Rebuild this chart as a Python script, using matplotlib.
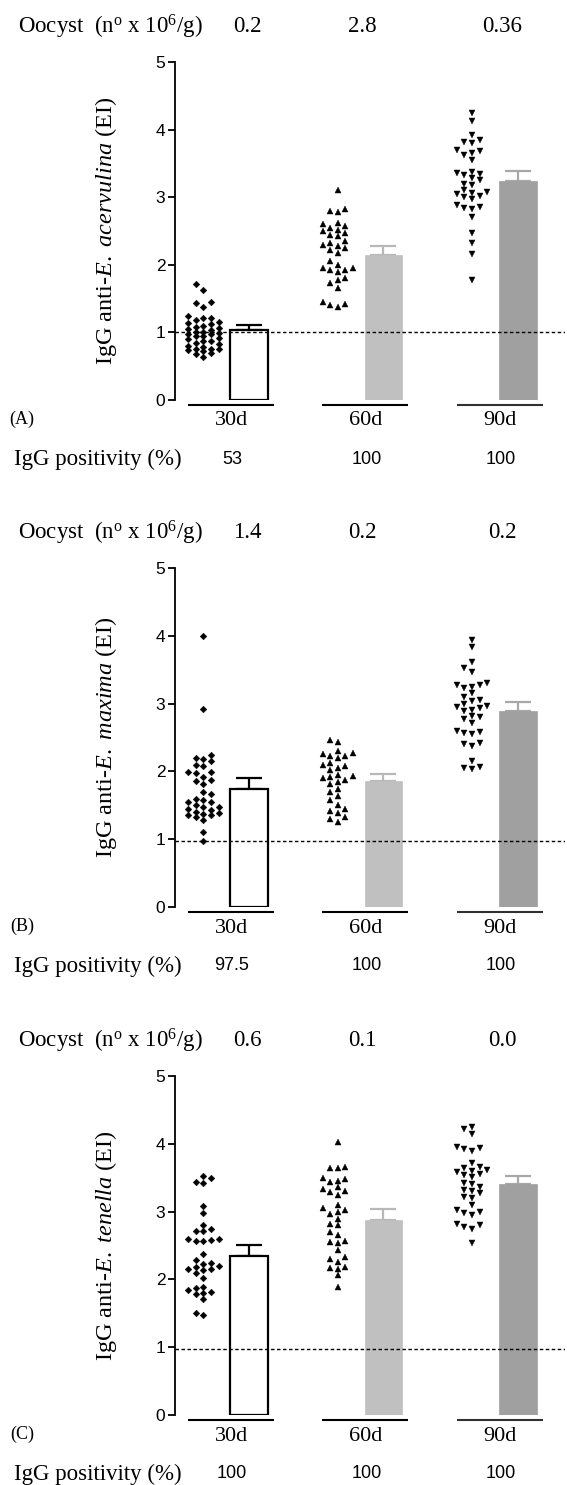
import numpy as np
import matplotlib
matplotlib.use("Agg")
import matplotlib.pyplot as plt

plt.rcParams['mathtext.fontset'] = 'custom'
plt.rcParams['mathtext.rm'] = 'Liberation Serif'
plt.rcParams['mathtext.it'] = 'Liberation Serif:italic'
plt.rcParams['mathtext.bf'] = 'Liberation Serif:bold'

SERIF = 'Liberation Serif'
SANS = 'Liberation Sans'

# ---------------- data ----------------
days = ["30d", "60d", "90d"]
panel_tags = ["(A)", "(B)", "(C)"]
species = ["acervulina", "maxima", "tenella"]
oocyst = [["0.2", "2.8", "0.36"], ["1.4", "0.2", "0.2"], ["0.6", "0.1", "0.0"]]
positivity = [["53", "100", "100"], ["97.5", "100", "100"], ["100", "100", "100"]]
cutoffs = [1.0, 0.97, 0.97]

a_30 = [1.71, 1.63, 1.45, 1.44, 1.37, 1.25, 1.22, 1.21, 1.18, 1.15, 1.14, 1.12,
        1.10, 1.08, 1.06, 1.05, 1.03, 1.01, 1.00, 0.99, 0.98, 0.97, 0.95, 0.94,
        0.92, 0.90, 0.88, 0.87, 0.85, 0.83, 0.80, 0.78, 0.76, 0.76, 0.75, 0.74,
        0.72, 0.70, 0.68, 0.63]
a_60 = [3.11, 2.82, 2.80, 2.78, 2.62, 2.60, 2.58, 2.55, 2.52, 2.50, 2.47, 2.44,
        2.43, 2.35, 2.32, 2.30, 2.28, 2.25, 2.22, 2.18, 2.05, 2.00, 1.96, 1.95,
        1.93, 1.92, 1.90, 1.80, 1.78, 1.73, 1.65, 1.45, 1.42, 1.40, 1.38]
a_90 = [4.24, 4.12, 3.92, 3.84, 3.82, 3.80, 3.70, 3.68, 3.66, 3.62, 3.55, 3.38,
        3.36, 3.34, 3.33, 3.28, 3.25, 3.20, 3.18, 3.10, 3.08, 3.06, 3.04, 3.02,
        3.00, 2.97, 2.88, 2.86, 2.84, 2.83, 2.71, 2.47, 2.32, 2.16, 1.77]
b_30 = [4.00, 2.92, 2.24, 2.20, 2.18, 2.15, 2.09, 2.08, 1.99, 1.99, 1.98, 1.92,
        1.87, 1.86, 1.82, 1.70, 1.66, 1.60, 1.58, 1.55, 1.55, 1.50, 1.48, 1.47,
        1.45, 1.43, 1.40, 1.39, 1.37, 1.35, 1.35, 1.33, 1.28, 1.11, 0.97]
b_60 = [2.47, 2.44, 2.30, 2.27, 2.25, 2.23, 2.22, 2.20, 2.12, 2.10, 2.08, 2.05,
        2.02, 1.95, 1.93, 1.92, 1.90, 1.88, 1.85, 1.82, 1.74, 1.70, 1.64, 1.58,
        1.50, 1.45, 1.42, 1.38, 1.33, 1.30, 1.26]
b_90 = [3.94, 3.83, 3.62, 3.52, 3.46, 3.30, 3.28, 3.27, 3.25, 3.23, 3.15, 3.09,
        3.05, 3.04, 2.99, 2.97, 2.95, 2.93, 2.91, 2.89, 2.82, 2.80, 2.77, 2.72,
        2.60, 2.58, 2.57, 2.55, 2.42, 2.40, 2.37, 2.15, 2.06, 2.05, 2.04]
c_30 = [3.53, 3.49, 3.43, 3.42, 3.08, 2.98, 2.80, 2.75, 2.72, 2.71, 2.60, 2.59,
        2.58, 2.57, 2.56, 2.37, 2.29, 2.24, 2.22, 2.20, 2.18, 2.16, 2.15, 2.14,
        2.09, 2.02, 1.89, 1.88, 1.85, 1.82, 1.80, 1.79, 1.71, 1.50, 1.48]
c_60 = [4.02, 3.66, 3.65, 3.64, 3.50, 3.48, 3.45, 3.44, 3.36, 3.33, 3.30, 3.29,
        3.25, 3.09, 3.05, 3.02, 3.00, 2.97, 2.89, 2.82, 2.80, 2.70, 2.65, 2.57,
        2.55, 2.53, 2.43, 2.33, 2.30, 2.26, 2.18, 2.17, 2.16, 2.06, 1.89]
c_90 = [4.25, 4.22, 4.14, 3.96, 3.94, 3.92, 3.89, 3.71, 3.66, 3.64, 3.62, 3.60,
        3.58, 3.56, 3.54, 3.51, 3.42, 3.40, 3.37, 3.32, 3.30, 3.27, 3.22, 3.20,
        3.10, 3.02, 3.00, 2.98, 2.95, 2.82, 2.80, 2.78, 2.75, 2.53]

points = [[a_30, a_60, a_90], [b_30, b_60, b_90], [c_30, c_60, c_90]]
means = [[1.04, 2.15, 3.24], [1.74, 1.86, 2.89], [2.34, 2.88, 3.40]]
sems = [[0.07, 0.13, 0.15], [0.17, 0.10, 0.14], [0.17, 0.16, 0.13]]

bar_fill = ["white", "#c0c0c0", "#a0a0a0"]
bar_edge = ["black", "#c0c0c0", "#a0a0a0"]
err_col = ["black", "#b8b8b8", "#a8a8a8"]
markers = ["D", "^", "v"]
msizes = [3.4, 4.9, 4.9]

W, H = 567, 1485
fig = plt.figure(figsize=(W / 100, H / 100), dpi=100)

zero_px = [400, 907, 1415]
top_px = [62, 568, 1076]
ax_left_px, ax_right_px = 175, 565
xlim = (-0.417, 2.487)


def swarm_offsets(vals, ppu_x, ppu_y, col_px=7.6, sep_px=6.0):
    order = np.argsort(vals)
    placed = []
    offs = np.zeros(len(vals))
    cands = [0, -1, 1, -2, 2]
    for idx in order:
        y = vals[idx] * ppu_y
        best_k, best_clear = 0, -1.0
        chosen = None
        for k in cands:
            dists = [abs(yp - y) for c, yp in placed if c == k]
            clear = min(dists) if dists else 1e9
            if clear >= sep_px:
                chosen = k
                break
            if clear > best_clear:
                best_k, best_clear = k, clear
        if chosen is None:
            chosen = best_k
        placed.append((chosen, y))
        offs[idx] = chosen * col_px / ppu_x
    return offs


for p in range(3):
    bottom = 1 - zero_px[p] / H
    height = (zero_px[p] - top_px[p]) / H
    ax = fig.add_axes([ax_left_px / W, bottom, (ax_right_px - ax_left_px) / W, height])
    ax.set_xlim(*xlim)
    ax.set_ylim(0, 5)
    for s in ["top", "right", "bottom"]:
        ax.spines[s].set_visible(False)
    ax.spines["left"].set_linewidth(1.3)
    ax.set_xticks([])
    ax.set_yticks(range(6))
    ax.set_yticklabels([str(i) for i in range(6)], fontfamily=SANS, fontsize=12.5)
    ax.tick_params(axis="y", length=5, width=1.3, pad=2)

    ppu_x = (ax_right_px - ax_left_px) / (xlim[1] - xlim[0])
    ppu_y = (zero_px[p] - top_px[p]) / 5.0

    ax.axhline(cutoffs[p], color="black", lw=1.0, ls=(0, (2.5, 1.8)), zorder=4)

    for g in range(3):
        vals = np.array(points[p][g])
        xs = g - 0.205 + swarm_offsets(vals, ppu_x, ppu_y)
        ax.plot(xs, vals, ls="none", marker=markers[g], ms=msizes[g],
                color="black", mec="black", mew=0.3, zorder=5, clip_on=False)
        bx = g + 0.135
        ax.bar(bx, means[p][g], width=0.28, color=bar_fill[g],
               edgecolor=bar_edge[g], linewidth=1.6 if g == 0 else 0.5, zorder=3)
        ax.errorbar(bx, means[p][g], yerr=[[0], [sems[p][g]]], fmt="none",
                    ecolor=err_col[g], elinewidth=1.6, capsize=9.5,
                    capthick=1.6, zorder=2)
        ax.plot([g - 0.32, g + 0.32], [-0.07, -0.07], color="black" if g < 2 else "#303030",
                lw=1.5, clip_on=False, solid_capstyle="butt")
        ax.text(g, -0.17, days[g], ha="center", va="top", fontfamily=SERIF,
                fontsize=16, transform=ax.transData, clip_on=False)

    # y label
    fig.text(106 / W, 1 - (zero_px[p] + top_px[p]) / 2 / H,
             r"IgG anti-$\mathit{E.}$ $\mathit{%s}$ (EI)" % species[p],
             rotation=90, ha="center", va="center", fontfamily=SERIF, fontsize=17.5)

    # oocyst row
    oy = 1 - (top_px[p] - 35) / H
    fig.text(18 / W, oy, r"Oocyst  (n$^{\mathrm{o}}$ x 10$^{6}$/g)", ha="left",
             va="center", fontfamily=SERIF, fontsize=16.5)
    for g, xp in enumerate([247, 362, 502]):
        fig.text(xp / W, oy, oocyst[p][g], ha="center", va="center",
                 fontfamily=SERIF, fontsize=16.5)

    # panel tag
    fig.text(22 / W, 1 - (zero_px[p] + 19) / H, panel_tags[p], ha="center",
             va="center", fontfamily=SERIF, fontsize=13)

    # positivity row
    py = 1 - (zero_px[p] + 59) / H
    fig.text(14 / W, py, "IgG positivity (%)", ha="left", va="center",
             fontfamily=SERIF, fontsize=16.5)
    for g, xp in enumerate([232, 367, 501]):
        fig.text(xp / W, py, positivity[p][g], ha="center", va="center",
                 fontfamily=SANS, fontsize=13)

fig.savefig("out.png", dpi=100)
